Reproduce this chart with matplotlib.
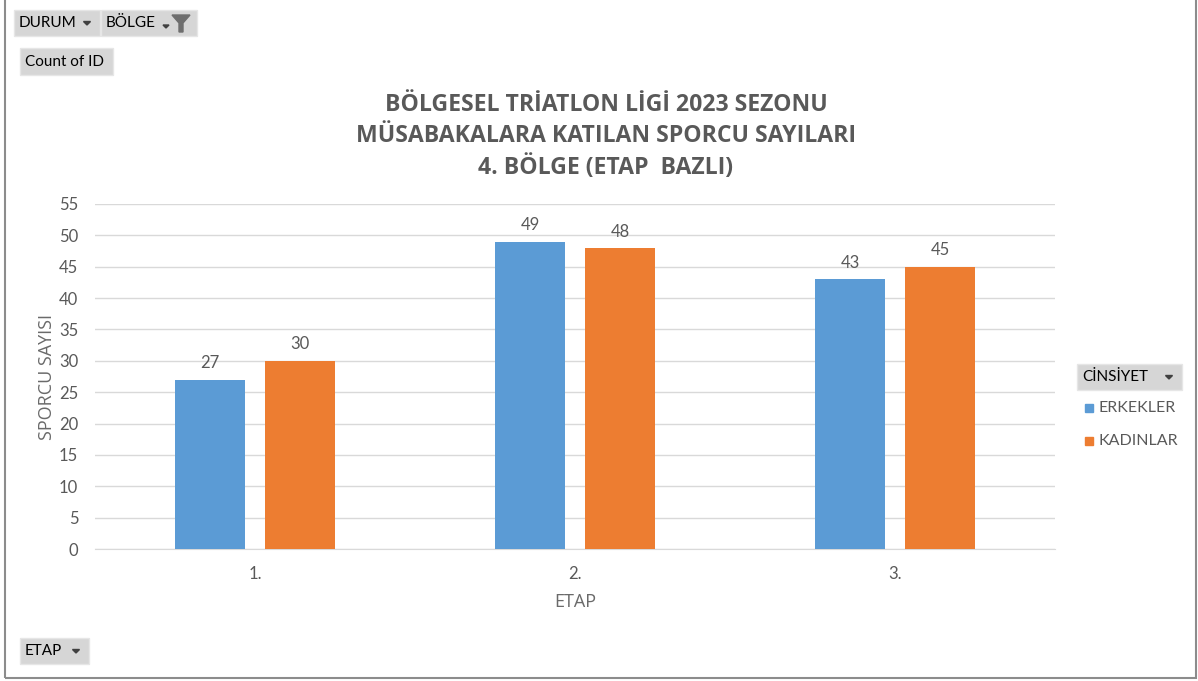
import numpy as np
import matplotlib
matplotlib.use("Agg")
import matplotlib.pyplot as plt
from matplotlib.patches import Rectangle, Polygon

# ---------------- data ----------------
etaplar = ["1.", "2.", "3."]
erkekler = [27, 49, 43]
kadinlar = [30, 48, 45]
series_names = ["ERKEKLER", "KADINLAR"]
title_lines = ["BÖLGESEL TRİATLON LİGİ 2023 SEZONU",
               "MÜSABAKALARA KATILAN SPORCU SAYILARI",
               "4. BÖLGE (ETAP  BAZLI)"]

BLUE = "#5B9BD5"
ORANGE = "#ED7D31"
GREY_TXT = "#595959"

W, H = 1198, 681
plt.rcParams["font.family"] = ["Lato", "DejaVu Sans"]

fig = plt.figure(figsize=(W / 100, H / 100), dpi=100)


def fx(px):
    return px / W


def fy(py):
    return 1 - py / H


# ---------------- axes ----------------
ax = fig.add_axes([fx(95), fy(549), fx(1055) - fx(95), fy(204) - fy(549)])
x = np.arange(len(etaplar))
bw = 0.219
off = 0.1406
b1 = ax.bar(x - off, erkekler, bw, color=BLUE, zorder=3)
b2 = ax.bar(x + off, kadinlar, bw, color=ORANGE, zorder=3)
for bars in (b1, b2):
    ax.bar_label(bars, padding=6, fontsize=12, color=GREY_TXT)

ax.set_xlim(-0.5, 2.5)
ax.set_ylim(0, 55)
ax.set_yticks(range(0, 56, 5))
ax.set_xticks(x)
ax.set_xticklabels(etaplar)
ax.grid(axis="y", color="#D9D9D9", linewidth=1, zorder=0)
for s in ("top", "right", "left"):
    ax.spines[s].set_visible(False)
ax.spines["bottom"].set_color("#D9D9D9")
ax.tick_params(axis="both", length=0, labelsize=12, labelcolor=GREY_TXT)
ax.tick_params(axis="y", pad=12)
ax.tick_params(axis="x", pad=12)
label_font = ["Open Sans", "DejaVu Sans"]
ax.set_xlabel("ETAP", fontsize=13, color="#6A6A6A", labelpad=8,
              family=label_font)
ax.set_ylabel("SPORCU SAYISI", fontsize=13, color="#6A6A6A", labelpad=2,
              family=label_font)

# ---------------- title ----------------
for i, line in enumerate(title_lines):
    fig.text(fx(606), fy(105 + 31.5 * i), line, ha="center", va="center",
             fontsize=16.6, fontweight="bold", color=GREY_TXT,
             family=["Open Sans", "DejaVu Sans"])

# ---------------- outer frame ----------------
fig.add_artist(Rectangle((fx(5), fy(678)), fx(1196) - fx(5), fy(-5) - fy(678),
                         transform=fig.transFigure, fill=False,
                         edgecolor="#8C8C8C", linewidth=1.5))


# ---------------- pivot buttons ----------------
def button(x0, y0, x1, y1, text, arrow=True, text_pad=5):
    fig.add_artist(Rectangle((fx(x0), fy(y1)), fx(x1) - fx(x0), fy(y0) - fy(y1),
                             transform=fig.transFigure, facecolor="#D6D6D6",
                             edgecolor="#E6E6E6", linewidth=1))
    fig.text(fx(x0 + text_pad), fy((y0 + y1) / 2), text, ha="left", va="center",
             fontsize=11, color="black")
    if arrow:
        ax_ = x1 - 13
        ay = (y0 + y1) / 2
        fig.add_artist(Polygon([(fx(ax_ - 3.5), fy(ay - 1.5)), (fx(ax_ + 3.5), fy(ay - 1.5)),
                                (fx(ax_), fy(ay + 2))],
                               transform=fig.transFigure, color="#404040"))


button(14, 10, 100, 36, "DURUM")
button(101, 10, 197, 36, "BÖLGE", arrow=False)
# filter icon on BÖLGE button
fig.add_artist(Polygon([(fx(172), fy(15)), (fx(190), fy(15)), (fx(183), fy(23)),
                        (fx(183), fy(32)), (fx(179), fy(32)), (fx(179), fy(23))],
                       transform=fig.transFigure, color="#6E6E6E"))
fig.add_artist(Polygon([(fx(163), fy(25)), (fx(169), fy(25)), (fx(166), fy(28))],
                       transform=fig.transFigure, color="#404040"))
button(20, 48, 113, 75, "Count of ID", arrow=False)
button(1077, 364, 1182, 390, "CİNSİYET")
button(20, 638, 89, 664, "ETAP")

# ---------------- legend ----------------
for i, (name, col) in enumerate(zip(series_names, [BLUE, ORANGE])):
    yy = 408 + 33 * i
    fig.add_artist(Rectangle((fx(1085), fy(yy + 4)), fx(8), fy(0) - fy(8),
                             transform=fig.transFigure, color=col))
    fig.text(fx(1098), fy(yy), name, ha="left", va="center",
             fontsize=11.5, color=GREY_TXT)

fig.savefig("out.png", dpi=100)
